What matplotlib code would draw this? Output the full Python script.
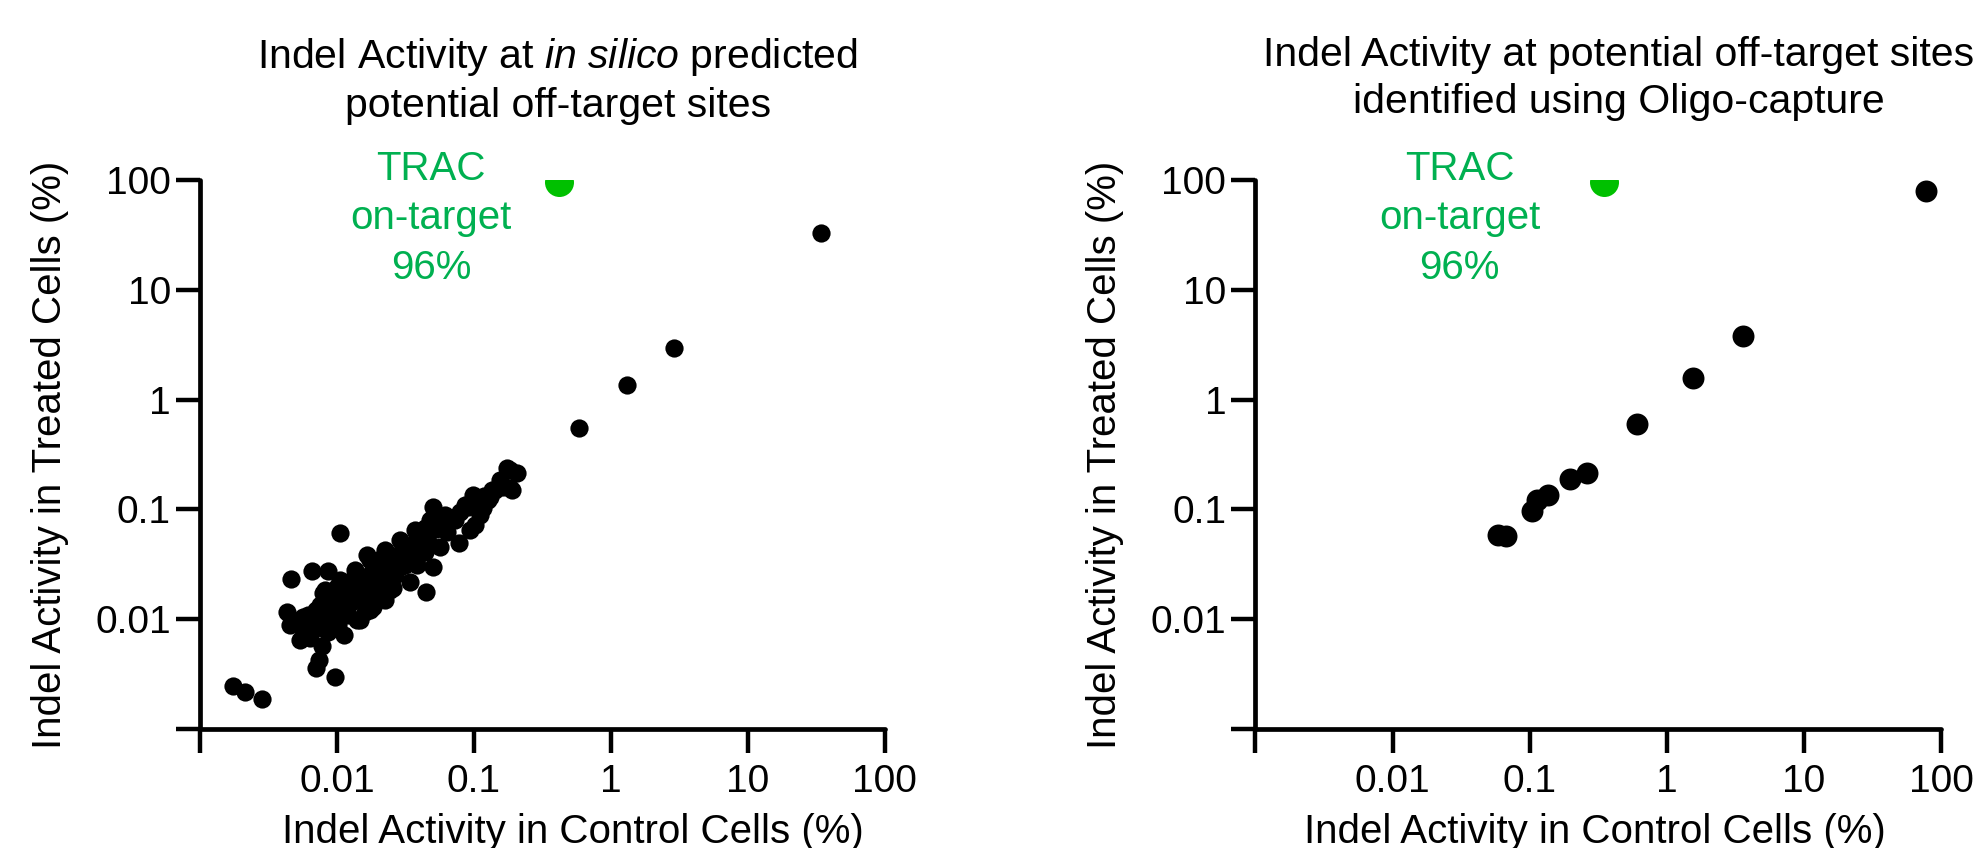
import matplotlib
matplotlib.use('Agg')
import matplotlib.pyplot as plt
import numpy as np

# %% fonts
plt.rcParams['font.family'] = 'Liberation Sans'
plt.rcParams['mathtext.fontset'] = 'custom'
plt.rcParams['mathtext.rm'] = 'Liberation Sans'
plt.rcParams['mathtext.it'] = 'Liberation Sans:italic'

# %% data (indel %, control vs treated)
# in silico predicted sites
silico_ctrl = [0.00173, 0.00213, 0.00283, 0.00968, 0.0070, 0.0074, 0.00774, 0.01132, 0.0046, 0.01055,
               0.0066, 0.00865, 0.01652, 0.0043, 0.00454, 0.00569, 0.00575, 0.0506, 0.0448, 0.0506,
               0.0783, 0.099, 0.102, 0.174, 0.206, 0.184, 0.155, 0.128, 0.0566, 0.0729,
               0.0383, 0.0231, 0.0304, 0.01397, 0.01746, 0.0218, 0.0258, 0.0342, 0.00796, 0.00998,
               0.01248, 0.0156, 0.01954, 0.0244, 0.00891, 0.00711, 0.01114, 0.0132, 0.01746, 0.0218,
               0.0289, 0.0383, 0.0634, 0.0342, 0.0289, 0.0244, 0.01845, 0.01476, 0.0383, 0.117,
               0.131, 0.164, 0.189, 0.184, 0.0729, 0.00494, 0.00637, 0.00818, 0.0102, 0.01205,
               0.01476, 0.0190, 0.0265, 0.0314, 0.0224, 0.0160, 0.00891, 0.00754, 0.0441, 0.0617,
               0.0863, 0.0938, 0.111, 0.143, 0.0479, 0.0265, 0.01995, 0.01355, 0.00537, 0.00861,
               0.00538, 0.00615, 0.00704, 0.00805, 0.00921, 0.01053, 0.01205, 0.01378, 0.01578, 0.01805,
               0.02064, 0.02362, 0.02702, 0.03091, 0.03537, 0.04046, 0.04628, 0.05296, 0.06059, 0.06931,
               0.0793, 0.09071, 0.1038, 0.1187, 0.1358, 0.1554,
               0.00968, 0.01246, 0.01604, 0.02064, 0.02657, 0.0342, 0.044,
               0.00818, 0.01053, 0.01356, 0.01745, 0.02246, 0.0289, 0.0372, 0.04787,
               0.00636, 0.00778,
               0.586, 1.31, 2.9, 34.4]
silico_trt = [0.00247, 0.00216, 0.00188, 0.00299, 0.00357, 0.00425, 0.00574, 0.00718, 0.0231, 0.0614,
              0.0277, 0.0277, 0.0385, 0.0117, 0.00885, 0.01054, 0.00744, 0.0301, 0.0178, 0.106,
              0.0498, 0.135, 0.0721, 0.237, 0.213, 0.156, 0.185, 0.122, 0.0457, 0.080,
              0.0564, 0.0398, 0.0445, 0.00984, 0.01213, 0.0160, 0.0191, 0.0220, 0.0172, 0.0198,
              0.0198, 0.0228, 0.0281, 0.0323, 0.01132, 0.00855, 0.0130, 0.01496, 0.0172, 0.0228,
              0.0301, 0.0371, 0.0627, 0.0427, 0.0346, 0.0185, 0.0130, 0.00984, 0.0312, 0.102,
              0.1305, 0.161, 0.150, 0.229, 0.0859, 0.00942, 0.00832, 0.00984, 0.00885, 0.01092,
              0.0156, 0.0205, 0.0253, 0.0312, 0.01496, 0.01164, 0.01496, 0.01346, 0.0677, 0.0889,
              0.1097, 0.0649, 0.0889, 0.150, 0.0474, 0.0346, 0.0346, 0.0253, 0.00647, 0.00764,
              0.00983, 0.01092, 0.01213, 0.01375, 0.01528, 0.01697, 0.01924, 0.02137, 0.02423, 0.02691,
              0.03051, 0.03389, 0.03763, 0.04268, 0.04741, 0.05375, 0.0597, 0.0663, 0.07517, 0.08349,
              0.09469, 0.1052, 0.1193, 0.1324, 0.1502, 0.1668,
              0.01163, 0.01404, 0.01732, 0.02137, 0.02691, 0.03318, 0.04093,
              0.01845, 0.02275, 0.02806, 0.03461, 0.04268, 0.05263, 0.06493, 0.08009,
              0.00674, 0.00832,
              0.55, 1.36, 2.95, 32.9]

# sites identified using Oligo-capture
oligo_ctrl = [0.0588, 0.0668, 0.104, 0.113, 0.136, 0.197, 0.262, 0.61, 1.55, 3.58, 78]
oligo_trt = [0.0585, 0.057, 0.0966, 0.122, 0.135, 0.189, 0.215, 0.60, 1.57, 3.77, 79]

# TRAC on-target
trac_ctrl = [0.42, 0.35]
trac_trt = [96, 96]

tick_vals = [0.001, 0.01, 0.1, 1, 10, 100]
tick_labels = ['', '0.01', '0.1', '1', '10', '100']

titles = [r'Indel Activity at $\mathit{in\ silico}$ predicted' + '\npotential off-target sites',
          'Indel Activity at potential off-target sites\nidentified using Oligo-capture']

# %% plotting
W, H = 1981, 848
fig = plt.figure(figsize=(W / 100, H / 100), dpi=100)

ax1 = fig.add_axes([200 / W, 119 / H, 684.5 / W, 549 / H])
ax2 = fig.add_axes([1255.5 / W, 119 / H, 685.5 / W, 549 / H])

ax1.scatter(silico_ctrl, silico_trt, s=172, color='black', linewidths=0, zorder=3)
ax2.scatter(oligo_ctrl, oligo_trt, s=250, color='black', linewidths=0, zorder=3)

for i, ax in enumerate([ax1, ax2]):
    ax.scatter(trac_ctrl[i], trac_trt[i], s=436, color='#00C000', linewidths=0, zorder=4)
    ax.set_xscale('log')
    ax.set_yscale('log')
    ax.set_xlim(0.001, 100)
    ax.set_ylim(0.001, 100)
    ax.set_xticks(tick_vals)
    ax.set_xticklabels(tick_labels)
    ax.set_yticks(tick_vals)
    ax.set_yticklabels(tick_labels)
    ax.minorticks_off()
    for side in ['top', 'right']:
        ax.spines[side].set_visible(False)
    for side in ['left', 'bottom']:
        ax.spines[side].set_linewidth(3.4)
        ax.spines[side].set_capstyle('round')
    ax.tick_params(axis='both', which='major', length=17.5, width=3.2, labelsize=28,
                   direction='out')
    ax.tick_params(axis='x', pad=8)
    ax.tick_params(axis='y', pad=3.5)

    ax.set_xlabel('Indel Activity in Control Cells (%)', fontsize=29)
    ax.set_ylabel('Indel Activity in Treated Cells (%)', fontsize=29)
    ax.yaxis.set_label_coords(-0.219, 0.5)
    ax.yaxis.label.set_va('center')
    ax.xaxis.label.set_va('baseline')

    # on-target label
    ax.text([0.3375, 0.298][i], 1.0546, 'TRAC\non-target\n96%', transform=ax.transAxes,
            ha='center', va='top', color='#00B050', fontsize=29, linespacing=1.38,
            clip_on=False)

ax1.xaxis.set_label_coords(0.545, -0.2077)
ax2.xaxis.set_label_coords(0.495, -0.2077)

fig.text(558 / W, 1 - 36 / H, titles[0], ha='center', va='top', fontsize=29.5,
         linespacing=1.3, multialignment='center')
fig.text(1619 / W, 1 - 36 / H, titles[1], ha='center', va='top', fontsize=29.5,
         linespacing=1.3, multialignment='center')

plt.savefig('out.png', dpi=100)
